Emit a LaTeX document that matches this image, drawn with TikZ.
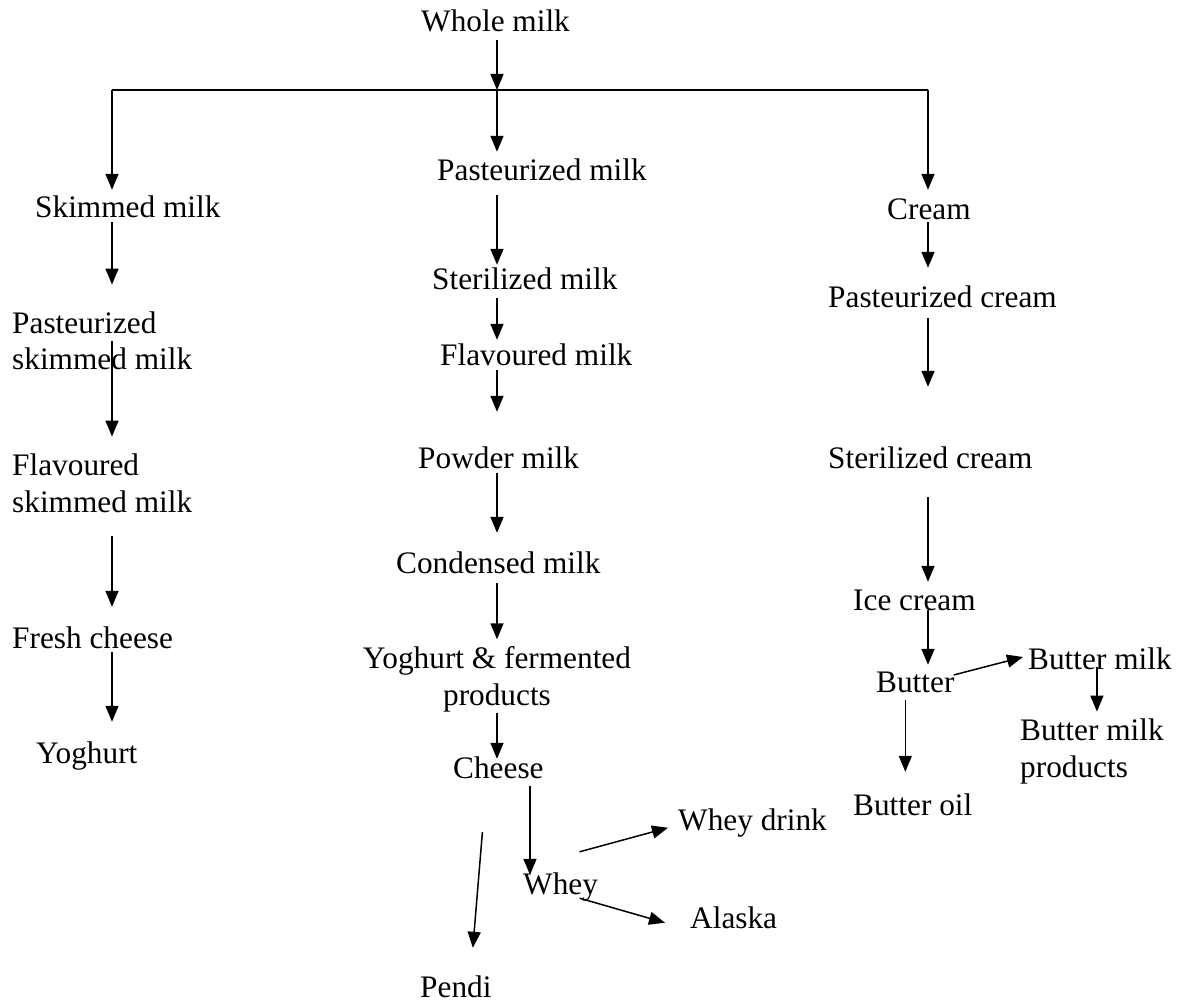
\documentclass[tikz,border=0pt]{standalone}
\usepackage{fontspec}
\setmainfont{Liberation Serif}
\usetikzlibrary{arrows.meta}

\begin{document}
\begin{tikzpicture}[x=1pt, y=-1pt,
  item/.style={inner sep=0pt, text height=22pt, text depth=7.5pt, anchor=base west, font=\fontsize{31.3}{36.5}\selectfont},
  item2/.style={inner sep=0pt, align=left, anchor=base west, font=\fontsize{31.3}{36.5}\selectfont},
  arr/.style={-{Triangle[length=16pt,width=13pt]}, line width=1.5pt}]
\useasboundingbox (0,0) rectangle (1187,1003);
\node (whole) [item] at (421,32) {Whole milk};
\node (skim) [item] at (35,218) {Skimmed milk};
\node (pmilk) [item] at (437,181) {Pasteurized milk};
\node (cream) [item] at (887,220) {Cream};
\node (pskim) [item2] at (12,370) {Pasteurized\\skimmed milk};
\node (fskim) [item2] at (12,512) {Flavoured\\skimmed milk};
\node (fresh) [item] at (12,648) {Fresh cheese};
\node (yog) [item] at (36,763) {Yoghurt};
\node (smilk) [item] at (432,290) {Sterilized milk};
\node (fmilk) [item] at (440,365) {Flavoured milk};
\node (powder) [item] at (418,468) {Powder milk};
\node (cond) [item] at (396,573) {Condensed milk};
\node (ferm) [item2, align=center, anchor=base] at (497,705) {Yoghurt \& fermented\\products};
\node (cheese) [item] at (453,778) {Cheese};
\node (pendi) [item] at (420,997) {Pendi};
\node (whey) [item] at (523,894) {Whey};
\node (wdrink) [item] at (678,830) {Whey drink};
\node (alaska) [item] at (690,928) {Alaska};
\node (pcream) [item] at (828,308) {Pasteurized cream};
\node (scream) [item] at (828,468) {Sterilized cream};
\node (ice) [item] at (853,610) {Ice cream};
\node (butter) [item] at (876,692) {Butter};
\node (bmilk) [item] at (1028,669) {Butter milk};
\node (bmprod) [item2] at (1020,777) {Butter milk\\products};
\node (boil) [item] at (853,815) {Butter oil};
\coordinate (split) at (497,90);
\coordinate (colL) at (112,90);
\coordinate (colR) at (928,90);
\coordinate (colW) at (530,90);
\draw [arr] (whole.south -| split) -- (split);
\draw [line width=1.5pt] (colL) -- (colR);
\draw [arr, shorten >=6pt] (colL) -- (skim.north -| colL);
\draw [arr, shorten >=7pt] (split) -- (pmilk.north -| split);
\draw [arr, shorten >=8pt] (colR) -- (cream.north -| colR);
\draw [arr, shorten <=-3.5pt, shorten >=27pt] (skim.south -| colL) -- (pskim.north -| colL);
\draw [arr, shorten <=-30pt, shorten >=17pt] (pskim.south -| colL) -- (fskim.north -| colL);
\draw [arr, shorten <=23pt, shorten >=19pt] (fskim.south -| colL) -- (fresh.north -| colL);
\draw [arr, shorten <=-3.5pt, shorten >=19pt] (fresh.south -| colL) -- (yog.north -| colL);
\draw [arr, shorten <=6.5pt, shorten >=3pt] (pmilk.south -| split) -- (smilk.north -| split);
\draw [arr, shorten >=3pt] (smilk.south -| split) -- (fmilk.north -| split);
\draw [arr, shorten <=-2.5pt, shorten >=34pt] (fmilk.south -| split) -- (powder.north -| split);
\draw [arr, shorten <=-2.5pt, shorten >=18pt] (powder.south -| split) -- (cond.north -| split);
\draw [arr, shorten <=2.5pt, shorten >=7pt] (cond.south -| split) -- (ferm.north -| split);
\draw [arr, shorten <=1pt, shorten >=-3pt] (ferm.south -| split) -- (cheese.north -| split);
\draw [arr, shorten >=-3pt] (cheese.south -| colW) -- (whey.north -| colW);
\draw [arr] ([shift={(-16,46.5)}]cheese.south) -- ([shift={(17,-27)}]pendi.north);
\draw [arr] ([shift={(19,-20)}]whey.north) -- ([shift={(-10,5)}]wdrink.west);
\draw [arr] ([shift={(19,-3.5)}]whey.south) -- ([shift={(-25,2)}]alaska.west);
\draw [arr, shorten <=-5.5pt, shorten >=18pt] (cream.south -| colR) -- (pcream.north -| colR);
\draw [arr, shorten <=2.5pt, shorten >=59pt] (pcream.south -| colR) -- (scream.north -| colR);
\draw [arr, shorten <=21.5pt, shorten >=6pt] (scream.south -| colR) -- (ice.north -| colR);
\draw [arr, shorten <=-7.5pt, shorten >=5pt] (ice.south -| colR) -- (butter.north -| colR);
\draw [arr] ([shift={(-1,-9.75)}]butter.east) -- ([shift={(-5,-4.75)}]bmilk.west);
\draw [arr, shorten <=-9.5pt, shorten >=7pt] ([xshift=-3]bmilk.south) -- ([xshift=-3]bmilk.south |- bmprod.north);
\draw [arr, shorten <=0.5pt, shorten >=21pt] ([xshift=-10]butter.south) -- ([xshift=-10]butter.south |- boil.north);
\end{tikzpicture}
\end{document}
